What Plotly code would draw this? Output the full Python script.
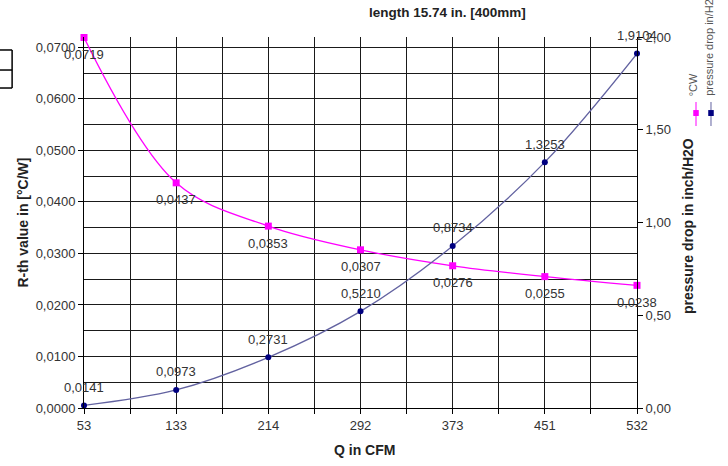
import plotly.graph_objects as go

# airflow categories (CFM) and measured values
q_cfm = ["53", "133", "214", "292", "373", "451", "532"]
rth = [0.0719, 0.0437, 0.0353, 0.0307, 0.0276, 0.0255, 0.0238]
dp = [0.0141, 0.0973, 0.2731, 0.5210, 0.8734, 1.3253, 1.9104]

x_pos = list(range(len(q_cfm)))
FONT = "Liberation Sans, Arial, sans-serif"


def comma(v):
    return f"{v:.4f}".replace(".", ",")


fig = go.Figure()
fig.add_trace(go.Scatter(
    x=x_pos, y=rth, name="°CW", mode="lines+markers",
    line=dict(color="#ff00ff", width=1.3, shape="spline", smoothing=1),
    marker=dict(symbol="square", size=7, color="#ff00ff"),
    cliponaxis=False,
))
fig.add_trace(go.Scatter(
    x=x_pos, y=dp, name="pressure drop in/H2O", yaxis="y2",
    mode="lines+markers",
    line=dict(color="#6262a0", width=1.3, shape="spline", smoothing=1),
    marker=dict(symbol="circle", size=6, color="#000080"),
    cliponaxis=False,
))

# data labels (below for R-th, above for pressure drop)
for xi, v in zip(x_pos, rth):
    fig.add_annotation(x=xi, y=v, xref="x", yref="y", text=comma(v), showarrow=False,
                       yshift=-17, font=dict(size=13, color="#333333"))
for xi, v in zip(x_pos, dp):
    fig.add_annotation(x=xi, y=v, xref="x", yref="y2", text=comma(v), showarrow=False,
                       yshift=18, font=dict(size=13, color="#333333"))

grid = "#1a1a1a"
fig.update_layout(
    width=728, height=466,
    margin=dict(l=84, r=91, t=37, b=58),
    paper_bgcolor="white", plot_bgcolor="white",
    separators=",.",
    showlegend=False,
    font=dict(family=FONT, size=13, color="#333333"),
    xaxis=dict(
        range=[0, 6], tickmode="array", tickvals=x_pos, ticktext=q_cfm,
        showgrid=True, gridcolor=grid, gridwidth=1,
        showline=True, linecolor="black", linewidth=1,
        ticks="outside", ticklen=5, tickcolor="black",
        minor=dict(tickmode="array", tickvals=[i + 0.5 for i in range(6)],
                   showgrid=True, gridcolor=grid, gridwidth=1,
                   ticks="outside", ticklen=5, tickcolor="black"),
        zeroline=False,
    ),
    yaxis=dict(
        range=[0, 0.072], tickmode="array",
        tickvals=[i * 0.01 for i in range(8)], tickformat=".4f",
        showgrid=True, gridcolor=grid, gridwidth=1,
        showline=True, linecolor="black", linewidth=1,
        ticks="outside", ticklen=5, tickcolor="black",
        minor=dict(tickmode="array", tickvals=[0.005 + i * 0.01 for i in range(7)],
                   showgrid=True, gridcolor=grid, gridwidth=1),
        zeroline=False,
    ),
    yaxis2=dict(
        range=[0, 2.0], overlaying="y", side="right",
        tickmode="array", tickvals=[0, 0.5, 1.0, 1.5, 2.0], tickformat=".2f",
        showgrid=False, showline=True, linecolor="black", linewidth=1,
        ticks="outside", ticklen=5, tickcolor="black", zeroline=False,
    ),
)

# titles
title_font = dict(size=14, color="#222")
fig.add_annotation(text="<b>length 15.74 in. [400mm]</b>", xref="paper", yref="paper",
                   x=0.658, y=1.065, xanchor="center", yanchor="middle", showarrow=False,
                   font=dict(size=13.5, color="#222"))
fig.add_annotation(text="<b>R-th value in [°C/W]</b>", xref="paper", yref="paper",
                   x=-0.112, y=0.5, xanchor="center", yanchor="middle", textangle=-90,
                   showarrow=False, font=title_font)
fig.add_annotation(text="<b>pressure drop in inch/H2O</b>", xref="paper", yref="paper",
                   x=1.092, y=0.49, xanchor="center", yanchor="middle", textangle=-90,
                   showarrow=False, font=title_font)
fig.add_annotation(text="<b>Q in CFM</b>", xref="paper", yref="paper",
                   x=0.508, y=-0.113, xanchor="center", yanchor="middle", showarrow=False,
                   font=title_font)

# rotated legend
for name, col, lcol, lx in [("°CW", "#ff00ff", "#ff00ff", 1.1067),
                            ("pressure drop in/H2O", "#000080", "#6262a0", 1.1338)]:
    fig.add_annotation(text=name, xref="paper", yref="paper", x=lx - 0.004, y=0.8356,
                       xanchor="center", yanchor="bottom", textangle=-90, showarrow=False,
                       font=dict(size=11, color="#555"))
    fig.add_shape(type="line", xref="paper", yref="paper", x0=lx, x1=lx,
                  y0=0.7601, y1=0.8248, line=dict(color=lcol, width=1))
    fig.add_shape(type="rect", xref="paper", yref="paper", x0=lx - 0.005, x1=lx + 0.005,
                  y0=0.7871, y1=0.8031, line=dict(width=0), fillcolor=col)

# small table fragment at left edge
for yy in [0.965, 0.911, 0.8625]:
    fig.add_shape(type="line", xref="paper", yref="paper", x0=-0.16, x1=-0.130,
                  y0=yy, y1=yy, line=dict(color="black", width=1.5))
fig.add_shape(type="line", xref="paper", yref="paper", x0=-0.130, x1=-0.130,
              y0=0.8625, y1=0.965, line=dict(color="black", width=1.5))

# drop the default page margin so the figure sits at the window origin
fig.write_html("out.html", config={"displayModeBar": False},
               post_script="document.body.style.margin='0';")
